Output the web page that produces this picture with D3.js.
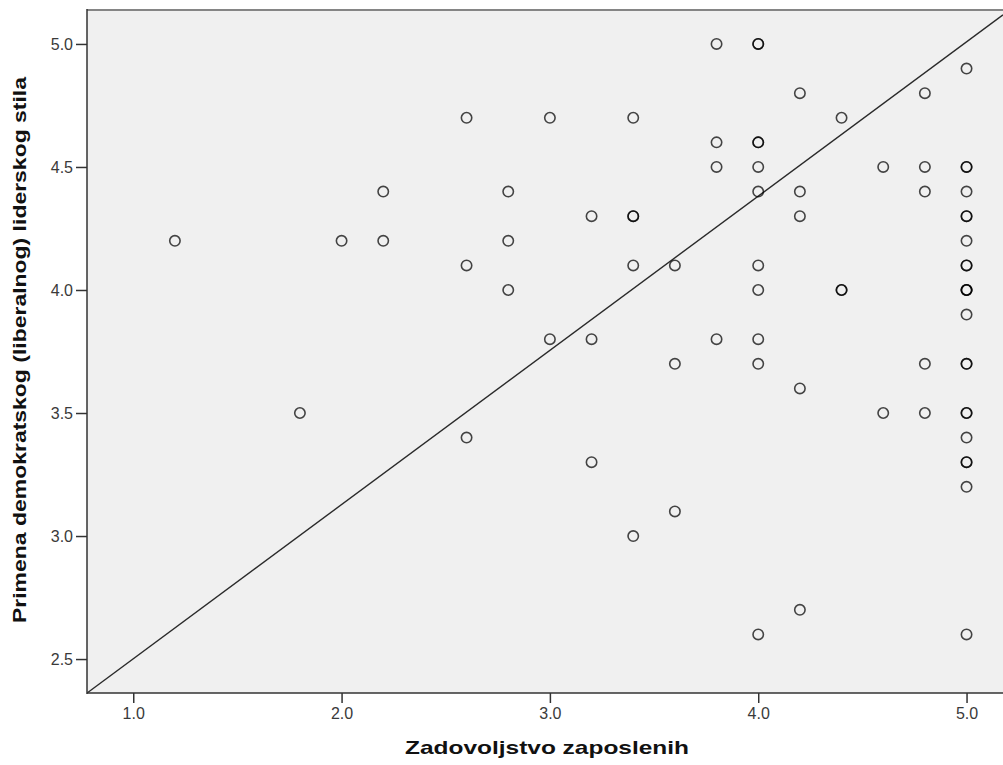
<!DOCTYPE html>
<html>
<head>
<meta charset="utf-8">
<script src="https://cdn.jsdelivr.net/npm/d3@7"></script>
<style>
  html, body { margin: 0; padding: 0; background: #ffffff; }
  svg { display: block; }
</style>
</head>
<body>
<svg id="chart" width="1003" height="765"></svg>
<script>
// Employee satisfaction (x) vs. use of democratic leadership style (y).
// Repeated pairs are listed once per respondent so they overprint.
const satisfaction = [
  1.2, 1.8, 2.0, 2.2, 2.2,
  2.6, 2.6, 2.6, 2.8, 2.8, 2.8,
  3.0, 3.0, 3.2, 3.2, 3.2,
  3.4, 3.4, 3.4, 3.4, 3.4,
  3.6, 3.6, 3.6,
  3.8, 3.8, 3.8, 3.8,
  4.0, 4.0, 4.0, 4.0, 4.0, 4.0, 4.0, 4.0, 4.0, 4.0, 4.0,
  4.2, 4.2, 4.2, 4.2, 4.2,
  4.4, 4.4, 4.4,
  4.6, 4.6,
  4.8, 4.8, 4.8, 4.8, 4.8,
  5.0, 5.0, 5.0, 5.0, 5.0, 5.0, 5.0, 5.0, 5.0, 5.0, 5.0, 5.0, 5.0,
  5.0, 5.0, 5.0, 5.0, 5.0, 5.0, 5.0, 5.0, 5.0
];
const democraticStyle = [
  4.2, 3.5, 4.2, 4.4, 4.2,
  4.7, 4.1, 3.4, 4.4, 4.2, 4.0,
  4.7, 3.8, 4.3, 3.8, 3.3,
  4.7, 4.3, 4.3, 4.1, 3.0,
  4.1, 3.7, 3.1,
  5.0, 4.6, 4.5, 3.8,
  5.0, 5.0, 4.6, 4.6, 4.5, 4.4, 4.1, 4.0, 3.8, 3.7, 2.6,
  4.8, 4.4, 4.3, 3.6, 2.7,
  4.7, 4.0, 4.0,
  4.5, 3.5,
  4.8, 4.5, 4.4, 3.7, 3.5,
  4.9, 4.5, 4.5, 4.4, 4.3, 4.3, 4.2, 4.1, 4.1, 4.0, 4.0, 4.0, 3.9,
  3.7, 3.7, 3.5, 3.5, 3.4, 3.3, 3.3, 3.2, 2.6
];

const xTicks = [1.0, 2.0, 3.0, 4.0, 5.0];
const yTicks = [2.5, 3.0, 3.5, 4.0, 4.5, 5.0];
const xDomain = [0.778, 5.175];
const yDomain = [2.362, 5.138];
// Diagonal line across the plot frame
const diagonal = [[0.778, 2.362], [5.175, 5.118]];

const xTitle = "Zadovoljstvo zaposlenih";
const yTitle = "Primena demokratskog (liberalnog) liderskog stila";

const plot = { left: 87, right: 1003, top: 10, bottom: 693 };
const fontFamily = "Arial, 'Liberation Sans', sans-serif";

const svg = d3.select("#chart");
const x = d3.scaleLinear().domain(xDomain).range([plot.left, plot.right]);
const y = d3.scaleLinear().domain(yDomain).range([plot.bottom, plot.top]);

svg.append("defs").append("clipPath").attr("id", "plotClip")
  .append("rect")
  .attr("x", plot.left).attr("y", plot.top)
  .attr("width", plot.right - plot.left).attr("height", plot.bottom - plot.top);

// Plot background
svg.append("rect")
  .attr("x", plot.left).attr("y", plot.top)
  .attr("width", plot.right - plot.left).attr("height", plot.bottom - plot.top)
  .attr("fill", "#f0f0f0");

// Diagonal line
svg.append("path")
  .attr("clip-path", "url(#plotClip)")
  .attr("d", d3.line().x(d => x(d[0])).y(d => y(d[1]))(diagonal))
  .attr("fill", "none")
  .attr("stroke", "#2a2a2a")
  .attr("stroke-width", 1.4);

// Points
const points = satisfaction.map((v, i) => ({ x: v, y: democraticStyle[i] }));
svg.append("g")
  .selectAll("circle")
  .data(points)
  .join("circle")
  .attr("cx", d => x(d.x))
  .attr("cy", d => y(d.y))
  .attr("r", 5.2)
  .attr("fill", "none")
  .attr("stroke", "#000")
  .attr("stroke-opacity", 0.72)
  .attr("stroke-width", 1.6);

// Top frame line
svg.append("line")
  .attr("x1", plot.left).attr("x2", plot.right)
  .attr("y1", plot.top).attr("y2", plot.top)
  .attr("stroke", "#858585").attr("stroke-width", 2);

// Axes
const axisColor = "#333";
const xAxis = svg.append("g")
  .attr("transform", `translate(0,${plot.bottom})`)
  .call(d3.axisBottom(x).tickValues(xTicks).tickFormat(d3.format(".1f")).tickSize(10).tickSizeOuter(0));
const yAxis = svg.append("g")
  .attr("transform", `translate(${plot.left},0)`)
  .call(d3.axisLeft(y).tickValues(yTicks).tickFormat(d3.format(".1f")).tickSize(11).tickSizeOuter(0));

[xAxis, yAxis].forEach(g => {
  g.select(".domain").remove();
  g.selectAll(".tick line").attr("stroke", axisColor).attr("stroke-width", 1.5);
  g.selectAll(".tick text")
    .attr("fill", "#3a3a3a")
    .style("font-family", fontFamily)
    .style("font-size", "16px");
});
xAxis.selectAll(".tick text").attr("dy", "0.71em").attr("y", 15);
yAxis.selectAll(".tick text").attr("x", -14);

svg.append("line")
  .attr("x1", plot.left).attr("x2", plot.left)
  .attr("y1", plot.top - 1).attr("y2", plot.bottom + 1)
  .attr("stroke", axisColor).attr("stroke-width", 1.5);
svg.append("line")
  .attr("x1", plot.left).attr("x2", plot.right)
  .attr("y1", plot.bottom).attr("y2", plot.bottom)
  .attr("stroke", axisColor).attr("stroke-width", 1.5);

// Axis titles
svg.append("text")
  .attr("x", 547)
  .attr("y", 754)
  .attr("text-anchor", "middle")
  .attr("fill", "#111")
  .attr("textLength", 284)
  .attr("lengthAdjust", "spacingAndGlyphs")
  .style("font-family", fontFamily)
  .style("font-weight", "bold")
  .style("font-size", "19px")
  .text(xTitle);

svg.append("text")
  .attr("transform", `translate(26,350) rotate(-90)`)
  .attr("text-anchor", "middle")
  .attr("fill", "#111")
  .attr("textLength", 546)
  .attr("lengthAdjust", "spacingAndGlyphs")
  .style("font-family", fontFamily)
  .style("font-weight", "bold")
  .style("font-size", "19px")
  .text(yTitle);
</script>
</body>
</html>
